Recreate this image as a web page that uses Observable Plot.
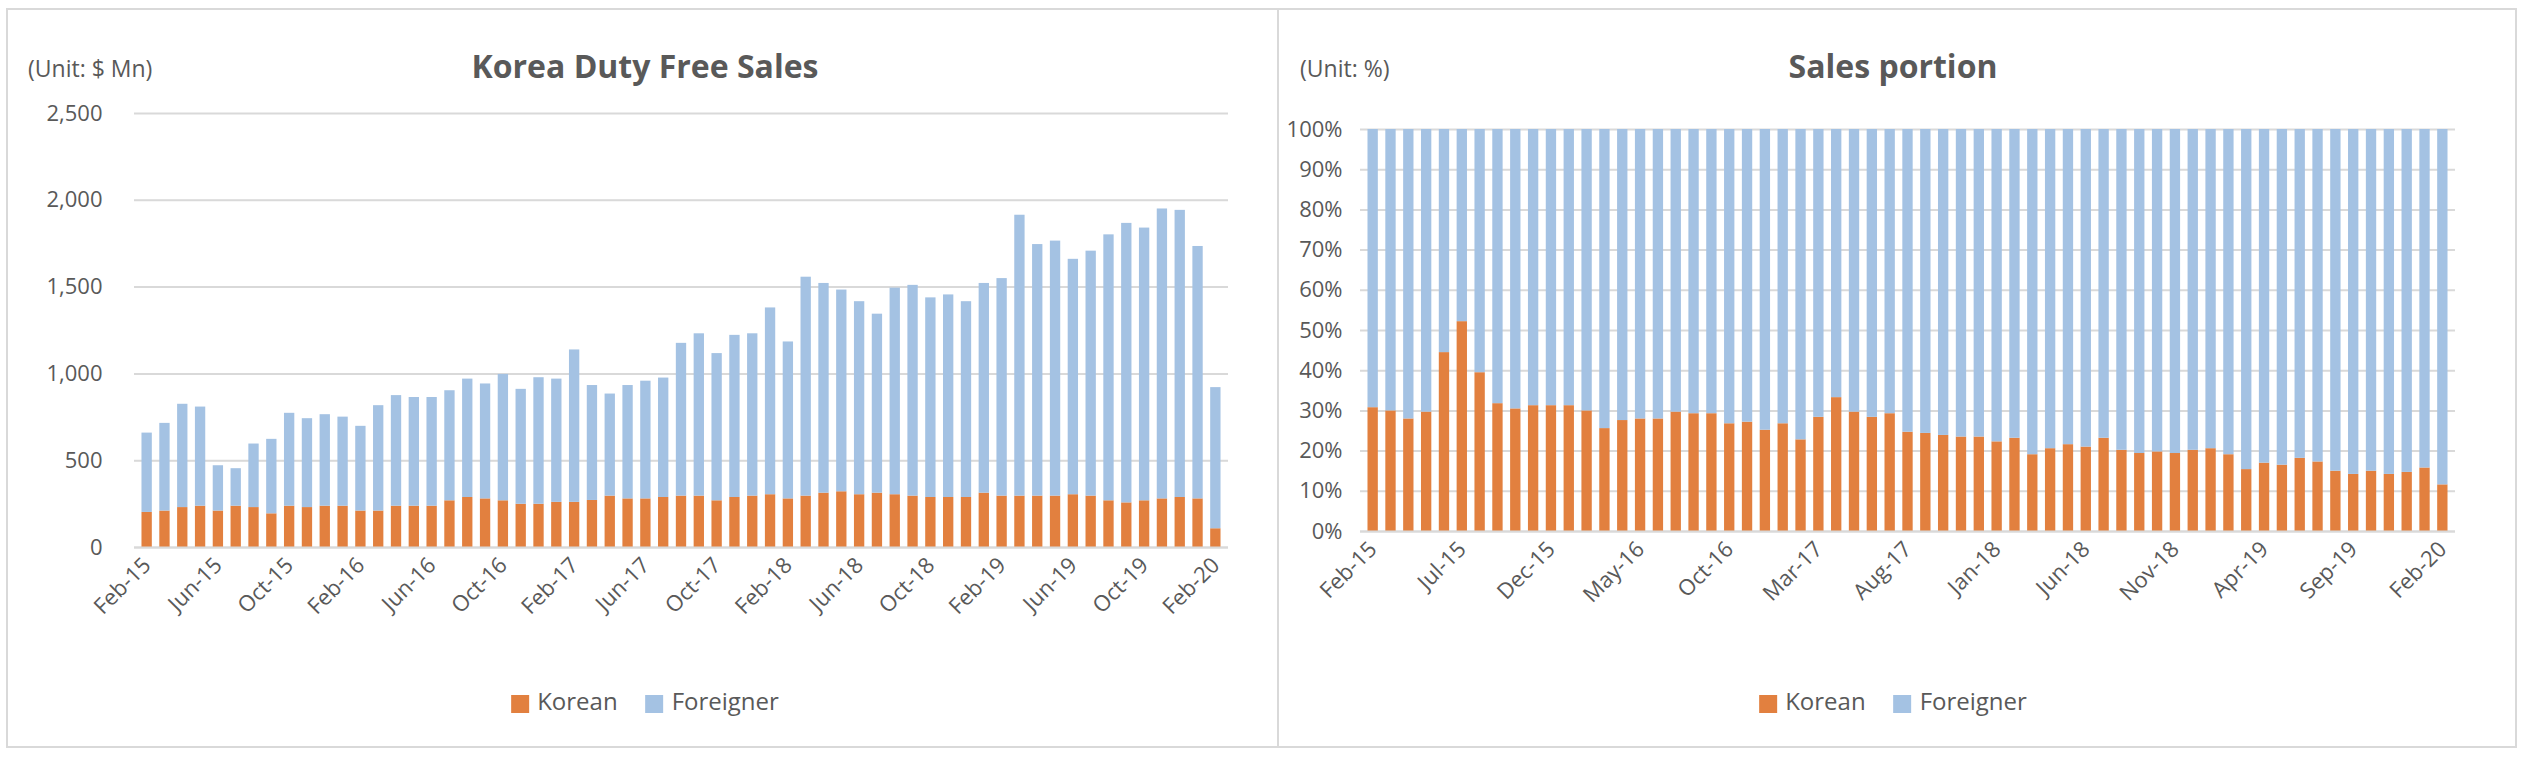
<!DOCTYPE html>
<html><head><meta charset="utf-8">
<script src="https://cdn.jsdelivr.net/npm/d3@7"></script>
<script src="https://cdn.jsdelivr.net/npm/@observablehq/plot@0.6"></script>
<style>
body{margin:0;background:#fff;font-family:"Open Sans",Lato,sans-serif;color:#595959;}
#wrap{position:relative;width:2524px;height:758px;}
.panel{position:absolute;top:8px;height:740px;border:2px solid #d9d9d9;box-sizing:border-box;}
.abs{position:absolute;white-space:nowrap;}
.title{font-size:32px;font-weight:bold;transform:translateX(-50%);}
.unit{font-size:23px;}
.legend{font-size:24px;transform:translateX(-50%);display:flex;gap:28px;align-items:center;}
.sw{display:inline-block;width:18px;height:18px;margin-right:8px;vertical-align:middle;}
</style></head><body>
<div id="wrap">
<div class="panel" style="left:6px;width:1273px"></div>
<div class="panel" style="left:1277px;width:1240px"></div>
<div class="abs unit" style="left:28px;top:52px">(Unit: $ Mn)</div>
<div class="abs title" style="left:645px;top:44px">Korea Duty Free Sales</div>
<div class="abs unit" style="left:1300px;top:52px">(Unit: %)</div>
<div class="abs title" style="left:1893px;top:44px">Sales portion</div>
<div id="c1" class="abs" style="left:8px;top:90px"></div>
<div id="c2" class="abs" style="left:1277px;top:90px"></div>
<div class="abs legend" style="left:645px;top:684px"><span><span class="sw" style="background:#E2803F"></span>Korean</span><span><span class="sw" style="background:#A4C2E3"></span>Foreigner</span></div>
<div class="abs legend" style="left:1893px;top:684px"><span><span class="sw" style="background:#E2803F"></span>Korean</span><span><span class="sw" style="background:#A4C2E3"></span>Foreigner</span></div>
</div>
<script>
const monNames=["Jan","Feb","Mar","Apr","May","Jun","Jul","Aug","Sep","Oct","Nov","Dec"];
const months=[];
for(let i=0;i<61;i++){const m=(1+i)%12;const y=15+Math.floor((1+i)/12);months.push(monNames[m]+"-"+y);}
const totalSales=[659,715,825,809,471,454,596,623,773,742,765,751,698,817,875,864,864,903,970,942,997,911,978,970,1138,933,884,933,958,
976,1176,1231,1117,1222,1231,1380,1184,1557,1521,1483,1416,1344,1494,1510,1438,1455,1416,1521,1549,1914,1745,1765,1660,1707,1801,1867,1840,1950,1942,1734,921];
const koreanSales=[202,210,230,238,210,238,230,194,238,230,238,238,210,210,238,238,238,269,288,280,269,249,249,260,260,271,296,280,280,
288,296,296,269,288,296,304,280,296,313,321,304,313,304,296,288,288,288,313,296,296,296,296,304,296,269,257,269,280,288,280,108];
const koreanPct=[30.8,30,28,29.7,44.5,52.2,39.5,31.8,30.5,31.3,31.3,31.3,30,25.6,27.6,28,28,29.7,29.3,29.3,26.8,27.2,25.2,26.8,22.8,28.4,33.3,29.7,28.4,
29.3,24.7,24.4,23.9,23.5,23.5,22.3,23.2,19.1,20.6,21.6,21,23.2,20.2,19.4,19.8,19.4,20.2,20.6,19.1,15.4,17,16.5,18.2,17.3,15,14.2,15,14.2,14.7,15.8,11.6];
const types=["Korean","Foreigner"];
const colors=["#E2803F","#A4C2E3"];

const d1=[],d2=[];
months.forEach((m,i)=>{
  d1.push({m,type:"Korean",v:koreanSales[i]});
  d1.push({m,type:"Foreigner",v:totalSales[i]-koreanSales[i]});
  d2.push({m,type:"Korean",v:koreanPct[i]});
  d2.push({m,type:"Foreigner",v:100-koreanPct[i]});
});
const font='"Open Sans",Lato,sans-serif';
const ticks1=months.filter((_,i)=>i%4===0);
const ticks2=months.filter((_,i)=>i%5===0);

const p1=Plot.plot({
  width:1260,height:567,marginLeft:126,marginRight:40,marginTop:23,marginBottom:110,
  style:{fontFamily:font,fontSize:"22px",color:"#595959",background:"transparent"},
  x:{domain:months,padding:0.42,ticks:ticks1,tickRotate:-45,tickSize:0,label:null,tickPadding:14},
  y:{domain:[0,2500],ticks:[0,500,1000,1500,2000,2500],tickFormat:d3.format(","),tickSize:0,label:null,grid:true,tickPadding:32},
  color:{domain:types,range:colors},
  marks:[
    Plot.gridY([0,500,1000,1500,2000,2500],{stroke:"#d9d9d9",strokeOpacity:1,strokeWidth:2}),
    Plot.barY(d1,{x:"m",y:"v",fill:"type"}),
    Plot.ruleY([0],{stroke:"#d9d9d9",strokeWidth:2})
  ]
});
document.getElementById("c1").append(p1);

const p2=Plot.plot({
  width:1223,height:561,marginLeft:83,marginRight:45,marginTop:39,marginBottom:120,
  style:{fontFamily:font,fontSize:"22px",color:"#595959",background:"transparent"},
  x:{domain:months,padding:0.42,ticks:ticks2,tickRotate:-45,tickSize:0,label:null,tickPadding:14},
  y:{domain:[0,100],ticks:d3.range(0,101,10),tickFormat:d=>d+"%",tickSize:0,label:null,tickPadding:18},
  color:{domain:types,range:colors},
  marks:[
    Plot.gridY(d3.range(0,101,10),{stroke:"#d9d9d9",strokeOpacity:1,strokeWidth:2}),
    Plot.barY(d2,{x:"m",y:"v",fill:"type"}),
    Plot.ruleY([0],{stroke:"#d9d9d9",strokeWidth:2})
  ]
});
document.getElementById("c2").append(p2);
</script></body></html>
